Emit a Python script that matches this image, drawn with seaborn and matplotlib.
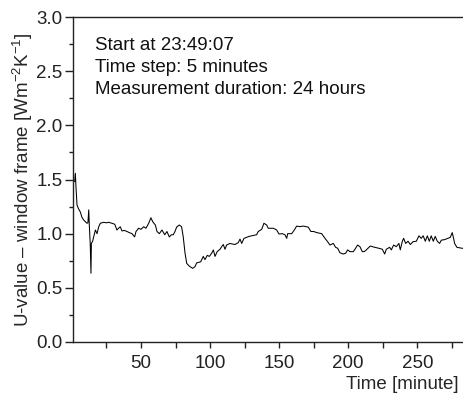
import numpy as np
import pandas as pd
import matplotlib
matplotlib.use("Agg")
import matplotlib.pyplot as plt
import seaborn as sns
from matplotlib.ticker import MultipleLocator, FormatStrFormatter

# Dados (tempo em índice de minuto, U em W/m2K)
tempo = [2.0, 2.5, 3.0, 3.7, 4.8, 6.1, 7.3, 8.5, 9.8, 10.9,
         11.6, 12.2, 12.6, 13.3, 13.8, 14.1, 15.0, 15.8, 17.0, 18.2,
         19.4, 20.6, 23.0, 25.0, 26.6, 29.0, 31.0, 32.6, 33.8, 35.0,
         36.3, 38.0, 39.9, 41.5, 43.5, 45.4, 46.4, 48.3, 50.0, 52.0,
         53.6, 55.6, 57.2, 58.5, 60.4, 61.6, 63.3, 65.2, 67.2, 68.8,
         70.5, 72.0, 73.4, 74.6, 75.8, 77.7, 79.4, 80.6, 81.9, 83.1,
         85.0, 87.4, 89.1, 90.3, 91.8, 93.2, 95.1, 96.3, 98.0, 99.5,
         101.2, 102.4, 103.6, 105.2, 107.2, 108.4, 109.6, 110.8, 112.0, 114.4,
         116.0, 118.0, 120.4, 121.7, 122.9, 124.6, 126.5, 128.3, 130.1, 132.0,
         133.7, 134.9, 137.4, 139.0, 141.0, 142.1, 143.5, 145.8, 148.2, 149.9,
         152.3, 154.2, 155.5, 156.2, 159.1, 161.0, 162.7, 165.0, 167.5, 171.1,
         173.0, 175.0, 177.2, 180.8, 183.2, 185.1, 186.8, 189.2, 190.9, 192.4,
         194.0, 196.4, 198.2, 199.6, 201.3, 203.7, 204.9, 206.8, 208.5, 210.2,
         211.6, 213.1, 216.0, 219.2, 222.3, 224.7, 226.4, 227.6, 230.0, 231.2,
         232.9, 234.8, 236.7, 237.7, 239.1, 240.1, 241.6, 243.3, 245.0, 246.9,
         249.3, 251.2, 252.9, 254.3, 255.8, 257.3, 258.7, 260.1, 261.6, 263.0,
         264.5, 266.2, 267.4, 269.8, 272.2, 273.9, 275.3, 276.3, 277.0, 278.7,
         280.5, 282.5, 283.5]
valor_u = [1.48, 1.557, 1.42, 1.265, 1.23, 1.20, 1.15, 1.126, 1.11, 1.096,
           1.10, 1.22, 1.08, 0.895, 0.634, 0.91, 0.93, 0.97, 1.034, 1.00,
           1.064, 1.096, 1.105, 1.10, 1.105, 1.096, 1.087, 1.034, 1.05, 1.064,
           1.025, 1.03, 1.02, 1.01, 1.00, 0.97, 1.02, 1.05, 1.04, 1.064,
           1.05, 1.096, 1.147, 1.11, 1.08, 1.02, 1.00, 1.034, 0.99, 1.02,
           0.97, 0.99, 0.99, 1.02, 1.06, 1.08, 1.064, 0.97, 0.82, 0.726,
           0.70, 0.68, 0.695, 0.73, 0.735, 0.74, 0.79, 0.76, 0.80, 0.79,
           0.82, 0.85, 0.79, 0.835, 0.856, 0.88, 0.90, 0.856, 0.895, 0.91,
           0.905, 0.90, 0.917, 0.95, 0.91, 0.957, 0.966, 0.975, 0.98, 0.985,
           0.99, 1.02, 1.04, 1.096, 1.08, 1.05, 1.05, 1.05, 1.034, 0.997,
           1.00, 0.99, 0.957, 1.00, 1.00, 1.034, 1.07, 1.065, 1.07, 1.06,
           1.02, 1.02, 1.01, 1.00, 0.957, 0.926, 0.895, 0.91, 0.874, 0.865,
           0.824, 0.812, 0.82, 0.85, 0.834, 0.834, 0.856, 0.895, 0.88, 0.834,
           0.834, 0.85, 0.886, 0.874, 0.865, 0.856, 0.812, 0.856, 0.874, 0.85,
           0.895, 0.88, 0.91, 0.85, 0.926, 0.957, 0.91, 0.93, 0.90, 0.926,
           0.93, 0.98, 0.957, 0.98, 0.93, 0.98, 0.93, 0.98, 0.93, 0.975,
           0.93, 0.91, 0.94, 0.945, 0.957, 0.966, 1.01, 0.957, 0.91, 0.874,
           0.87, 0.865, 0.865]
assert len(tempo) == len(valor_u)

linhas_texto = ["Start at 23:49:07", "Time step: 5 minutes", "Measurement duration: 24 hours"]

sns.set_style("ticks")
plt.rcParams["font.family"] = ["Liberation Sans", "DejaVu Sans"]
plt.rcParams["mathtext.fontset"] = "custom"
plt.rcParams["mathtext.rm"] = "Liberation Sans"
plt.rcParams["mathtext.it"] = "Liberation Sans:italic"

TAM = 13.5

df = pd.DataFrame({"Tempo": tempo, "U": valor_u})

fig = plt.figure(figsize=(4.63, 3.96), dpi=100)
ax = fig.add_axes([73 / 463, 54 / 396, 390 / 463, 325 / 396])

sns.lineplot(data=df, x="Tempo", y="U", color="black", linewidth=0.75, ax=ax)

ax.set_xlim(0.8, 283.1)
ax.set_ylim(0, 3.0)
ax.xaxis.set_major_locator(MultipleLocator(50))
ax.xaxis.set_minor_locator(MultipleLocator(25))
ax.yaxis.set_major_locator(MultipleLocator(0.5))
ax.yaxis.set_minor_locator(MultipleLocator(0.25))
ax.yaxis.set_major_formatter(FormatStrFormatter("%.1f"))
ax.tick_params(which="both", width=1, colors="#222222", labelsize=TAM)
ax.tick_params(axis="x", which="both", length=4, pad=5)
ax.tick_params(axis="y", which="major", length=6, pad=1.5)
ax.tick_params(axis="y", which="minor", length=3)

ax.spines["right"].set_visible(False)
for lado in ["left", "bottom", "top"]:
    ax.spines[lado].set_linewidth(1.0)
    ax.spines[lado].set_color("#222222")

ax.set_xlabel("Time [minute]", fontsize=TAM)
ax.xaxis.set_label_coords(0.99, -0.132)
ax.xaxis.label.set_horizontalalignment("right")
ax.xaxis.label.set_verticalalignment("center")
ax.set_ylabel(r"U-value – window frame [Wm$^{-2}$K$^{-1}$]", fontsize=TAM)
ax.yaxis.set_label_coords(-0.097, 0.5)

for i, linha in enumerate(linhas_texto):
    ax.text(0.056, 0.9 - i * 0.069, linha, transform=ax.transAxes,
            fontsize=TAM, ha="left", va="baseline", color="#111111")

plt.savefig("out.png", dpi=100)
